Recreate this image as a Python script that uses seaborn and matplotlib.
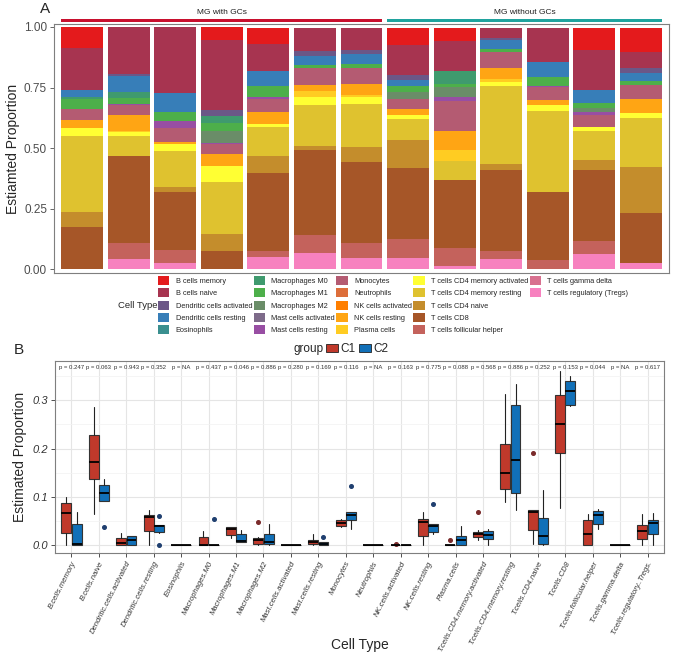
import numpy as np
import pandas as pd
import matplotlib
matplotlib.use("Agg")
import matplotlib.pyplot as plt
import matplotlib.transforms as mtransforms
from matplotlib.patches import Patch, Rectangle
import seaborn as sns

# ---------------- data: panel A (13 samples, proportions per cell type) ----------------
samples = list(range(13))
group_a_labels = ["MG with GCs", "MG without GCs"]
group_a_sizes = [7, 6]

cell_types = [
    "B cells memory", "B cells naive", "Dendritic cells activated", "Dendritic cells resting",
    "Eosinophils", "Macrophages M0", "Macrophages M1", "Macrophages M2",
    "Mast cells activated", "Mast cells resting", "Monocytes", "Neutrophils",
    "NK cells activated", "NK cells resting", "Plasma cells",
    "T cells CD4 memory activated", "T cells CD4 memory resting", "T cells CD4 naive",
    "T cells CD8", "T cells follicular helper", "T cells gamma delta",
    "T cells regulatory (Tregs)",
]
cell_colors = [
    "#E41A1C", "#A73450", "#6B5787", "#377EB8", "#3A8F8F", "#3F9A6E", "#4DAF4A",
    "#6A8D68", "#7E6B8A", "#984EA3", "#B45B72", "#DD6E3A", "#FF7F00", "#FFA514",
    "#FFCC22", "#FFFF33", "#DFC22F", "#C48D2C", "#A65628", "#C4625C", "#D8708F",
    "#F781BF",
]

b_memory = [0.086, 0, 0, 0.055, 0.064, 0, 0, 0.068, 0.052, 0, 0, 0.092, 0.100]
b_naive = [0.174, 0.195, 0.271, 0.286, 0.114, 0.096, 0.092, 0.127, 0.125, 0.040, 0.141, 0.162, 0.066]
dc_activated = [0, 0.008, 0, 0.027, 0, 0.018, 0.018, 0.021, 0, 0.008, 0, 0, 0.021]
dc_resting = [0.030, 0.065, 0.078, 0, 0.062, 0.040, 0.040, 0.023, 0, 0.038, 0.062, 0.056, 0.033]
eosinophils = [0] * 13
mac_m0 = [0.007, 0.024, 0, 0.029, 0, 0, 0, 0, 0.052, 0, 0, 0, 0]
mac_m1 = [0.040, 0.024, 0.041, 0.034, 0.044, 0.009, 0.015, 0.026, 0.012, 0.015, 0.036, 0.019, 0.015]
mac_m2 = [0, 0, 0, 0.047, 0, 0, 0, 0.029, 0.042, 0, 0, 0.018, 0]
mast_activated = [0] * 13
mast_resting = [0, 0.005, 0.029, 0.007, 0.009, 0, 0, 0, 0.018, 0, 0.005, 0.012, 0]
monocytes = [0.046, 0.041, 0.054, 0.038, 0.055, 0.070, 0.067, 0.038, 0.123, 0.063, 0.052, 0.048, 0.056]
neutrophils = [0] * 13
nk_activated = [0] * 13
nk_resting = [0.031, 0.066, 0.011, 0.050, 0.049, 0.027, 0.045, 0.027, 0.079, 0.045, 0.023, 0, 0.059]
plasma = [0, 0.005, 0, 0, 0, 0.024, 0.010, 0, 0.045, 0.014, 0, 0, 0]
cd4_mem_act = [0.034, 0.018, 0.026, 0.067, 0.012, 0.034, 0.029, 0.014, 0, 0.016, 0.023, 0.018, 0.019]
cd4_mem_rest = [0.313, 0.082, 0.150, 0.213, 0.118, 0.168, 0.175, 0.088, 0.077, 0.321, 0.334, 0.119, 0.205]
cd4_naive = [0.065, 0, 0.021, 0.072, 0.071, 0.016, 0.062, 0.115, 0, 0.025, 0, 0.042, 0.190]
cd8 = [0.173, 0.359, 0.241, 0.075, 0.323, 0.353, 0.337, 0.292, 0.281, 0.334, 0.281, 0.290, 0.204]
tfh = [0, 0.066, 0.053, 0, 0.021, 0.072, 0.059, 0.079, 0.077, 0.036, 0.038, 0.055, 0]
gamma_delta = [0] * 13
tregs = [0, 0.041, 0.025, 0, 0.053, 0.068, 0.048, 0.048, 0.012, 0.041, 0, 0.064, 0.027]

props = [b_memory, b_naive, dc_activated, dc_resting, eosinophils, mac_m0, mac_m1, mac_m2,
         mast_activated, mast_resting, monocytes, neutrophils, nk_activated, nk_resting,
         plasma, cd4_mem_act, cd4_mem_rest, cd4_naive, cd8, tfh, gamma_delta, tregs]

# ---------------- data: panel B (box statistics per cell type) ----------------
box_labels = [
    "B.cells.memory", "B.cells.naive", "Dendritic.cells.activated", "Dendritic.cells.resting",
    "Eosinophils", "Macrophages.M0", "Macrophages.M1", "Macrophages.M2",
    "Mast.cells.activated", "Mast.cells.resting", "Monocytes", "Neutrophils",
    "NK.cells.activated", "NK.cells.resting", "Plasma.cells",
    "T.cells.CD4.memory.activated", "T.cells.CD4.memory.resting", "T.cells.CD4.naive",
    "T.cells.CD8", "T.cells.follicular.helper", "T.cells.gamma.delta",
    "T.cells.regulatory..Tregs.",
]
p_values = ["0.247", "0.063", "0.943", "0.352", "NA", "0.437", "0.046", "0.886", "0.280",
            "0.169", "0.116", "NA", "0.163", "0.775", "0.088", "0.568", "0.886", "0.252",
            "0.153", "0.044", "NA", "0.617"]

c1_low = [0.0, 0.065, 0.0, 0.0, 0, 0, 0.014, 0.0, 0, 0.0, 0.037, 0, 0, 0.0, 0, 0.010, 0.090, 0.003, 0.077, 0.0, 0, 0.0]
c1_q1 = [0.026, 0.138, 0.0, 0.030, 0, 0, 0.021, 0.003, 0, 0.003, 0.040, 0, 0, 0.020, 0, 0.017, 0.116, 0.031, 0.190, 0.0, 0, 0.013]
c1_med = [0.066, 0.173, 0.004, 0.058, 0, 0.001, 0.034, 0.010, 0, 0.007, 0.047, 0, 0, 0.048, 0, 0.024, 0.149, 0.068, 0.250, 0.023, 0, 0.030]
c1_q3 = [0.087, 0.227, 0.014, 0.063, 0, 0.018, 0.037, 0.014, 0, 0.010, 0.052, 0, 0, 0.055, 0, 0.028, 0.210, 0.072, 0.311, 0.052, 0, 0.042]
c1_high = [0.100, 0.286, 0.026, 0.072, 0, 0.030, 0.038, 0.017, 0, 0.023, 0.055, 0, 0, 0.069, 0, 0.032, 0.313, 0.072, 0.360, 0.065, 0, 0.064]
c1_out = [[], [], [], [], [], [], [], [0.048], [], [], [], [], [0.002], [], [0.011], [0.068], [], [0.191], [], [], [], []]

c2_low = [0.0, 0.092, 0.0, 0.025, 0, 0, 0.006, 0.0, 0, 0.0, 0.034, 0, 0, 0.023, 0.0, 0.0, 0.073, 0.0, 0.287, 0.034, 0, 0.0]
c2_q1 = [0.0, 0.092, 0.001, 0.027, 0, 0, 0.007, 0.003, 0, 0.0, 0.052, 0, 0, 0.028, 0.001, 0.012, 0.108, 0.003, 0.290, 0.043, 0, 0.023]
c2_med = [0.002, 0.109, 0.011, 0.039, 0, 0, 0.009, 0.006, 0, 0.002, 0.063, 0, 0, 0.039, 0.010, 0.021, 0.177, 0.019, 0.318, 0.063, 0, 0.047]
c2_q3 = [0.044, 0.125, 0.019, 0.041, 0, 0.001, 0.023, 0.023, 0.001, 0.006, 0.068, 0, 0, 0.043, 0.019, 0.029, 0.289, 0.057, 0.339, 0.071, 0, 0.052]
c2_high = [0.068, 0.137, 0.020, 0.041, 0, 0.001, 0.032, 0.044, 0.001, 0.006, 0.068, 0, 0, 0.043, 0.040, 0.033, 0.334, 0.114, 0.350, 0.076, 0, 0.066]
c2_out = [[], [0.038], [], [0.061, 0.0], [], [0.054], [], [], [], [0.018], [0.123], [], [], [0.086], [], [], [], [], [], [], [], []]

group_b_labels = ["C1", "C2"]
group_b_colors = ["#C0392B", "#1170B8"]
flier_colors = ["#7A2A2A", "#1F3F6F"]

# ---------------- style ----------------
sns.set_theme(style="white")
plt.rcParams["font.family"] = ["Liberation Sans", "DejaVu Sans"]

fig = plt.figure(figsize=(6.75, 6.56), dpi=100)
W, H = 675, 656


def axes_rect(x0, y0, x1, y1):
    return [x0 / W, 1 - y1 / H, (x1 - x0) / W, (y1 - y0) / H]


# ---------------- panel A ----------------
ax_a = fig.add_axes(axes_rect(54, 24, 669, 273))
rows = []
for ct, vals in zip(cell_types, props):
    for s, v in zip(samples, vals):
        rows.append({"sample": s, "cell": ct, "prop": v})
df_a = pd.DataFrame(rows)

sns.histplot(data=df_a, x="sample", weights="prop", hue="cell", hue_order=cell_types,
             palette=dict(zip(cell_types, cell_colors)), multiple="stack", discrete=True,
             shrink=0.9, linewidth=0, alpha=1, legend=False, ax=ax_a)
ax_a.set_xlim(-0.6, len(samples) - 0.4)
ax_a.set_ylim(-0.015, 1.012)
ax_a.set_xticks([])
ax_a.set_xlabel("")
ax_a.set_yticks([0, 0.25, 0.5, 0.75, 1.0])
ax_a.set_yticklabels(["0.00", "0.25", "0.50", "0.75", "1.00"], fontsize=8.5, color="#4D4D4D")
ax_a.tick_params(axis="y", length=3, width=0.6, color="#4D4D4D", left=True, pad=2)
ax_a.set_ylabel("Estiamted Proportion", fontsize=10, labelpad=3)
for sp in ax_a.spines.values():
    sp.set_color("#7F7F7F")
    sp.set_linewidth(0.8)

# group strips above the bars
trans = mtransforms.blended_transform_factory(ax_a.transData, ax_a.transAxes)
strip_colors = ["#C8102E", "#20A39E"]
start = 0
for lab, n, col in zip(group_a_labels, group_a_sizes, strip_colors):
    x0, x1 = start - 0.45, start + n - 0.55
    ax_a.add_patch(Rectangle((x0, 1.007), x1 - x0, 0.015, transform=trans,
                             color=col, clip_on=False, linewidth=0))
    ax_a.text((x0 + x1) / 2, 1.032, lab, transform=trans, ha="center", va="bottom",
              fontsize=6, color="#222222")
    start += n

fig.text(40 / W, 1 - 9 / H, "A", fontsize=11, ha="left", va="center")

# legend for cell types (5 x 5 grid, column-major)
handles = [Patch(facecolor=c, edgecolor="none", label=l) for l, c in zip(cell_types, cell_colors)]
handles += [Patch(facecolor="none", edgecolor="none", label="")] * 3
fig.legend(handles=handles, loc="upper left", bbox_to_anchor=(158 / W, 1 - 276 / H),
           ncol=5, frameon=False, fontsize=5.3, handlelength=1.55, handleheight=1.5,
           handletextpad=0.85, labelspacing=0.45, columnspacing=0.2, borderpad=0,
           borderaxespad=0)
fig.text(118 / W, 1 - 305 / H, "Cell Type", fontsize=6.8, ha="left", va="center")

# ---------------- panel B ----------------
ax_b = fig.add_axes(axes_rect(55, 361, 664, 553))
n = len(box_labels)
centers = np.arange(n)
offset = 0.1875

lows = [c1_low, c2_low]
q1s = [c1_q1, c2_q1]
meds = [c1_med, c2_med]
q3s = [c1_q3, c2_q3]
highs = [c1_high, c2_high]
outs = [c1_out, c2_out]

for g in range(2):
    stats = []
    for i in range(n):
        stats.append({"whislo": lows[g][i], "q1": q1s[g][i], "med": meds[g][i],
                      "q3": q3s[g][i], "whishi": highs[g][i], "fliers": outs[g][i]})
    pos = centers + (-offset if g == 0 else offset)
    ax_b.bxp(stats, positions=pos, widths=0.36, patch_artist=True, showcaps=False,
             boxprops=dict(facecolor=group_b_colors[g], edgecolor="#333333", linewidth=0.8),
             medianprops=dict(color="black", linewidth=1.3),
             whiskerprops=dict(color="#222222", linewidth=0.8),
             flierprops=dict(marker="o", markersize=2.6, markerfacecolor=flier_colors[g],
                             markeredgecolor=flier_colors[g]),
             manage_ticks=False)

ax_b.set_xlim(-0.6, n - 0.4)
ax_b.set_ylim(-0.016, 0.381)
ax_b.set_yticks([0.0, 0.1, 0.2, 0.3])
ax_b.set_yticklabels(["0.0", "0.1", "0.2", "0.3"], fontsize=8, style="italic", color="#333333")
ax_b.set_yticks([0.05, 0.15, 0.25, 0.35], minor=True)
ax_b.set_xticks(centers)
ax_b.set_xticklabels(box_labels, rotation=63, ha="right", rotation_mode="anchor",
                     fontsize=5.5, style="italic", color="#333333")
ax_b.tick_params(axis="both", which="major", length=3, width=0.6, color="#333333",
                 bottom=True, left=True, pad=2)
ax_b.tick_params(axis="both", which="minor", length=0)
ax_b.grid(True, which="major", color="#E5E5E5", linewidth=0.8)
ax_b.grid(True, which="minor", axis="y", color="#F2F2F2", linewidth=0.5)
ax_b.set_axisbelow(True)
for sp in ax_b.spines.values():
    sp.set_color("#7F7F7F")
    sp.set_linewidth(0.8)
ax_b.set_ylabel("Estimated Proportion", fontsize=10, labelpad=4)
ax_b.set_xlabel("Cell Type", fontsize=10)
ax_b.xaxis.set_label_coords(0.5, -(645 - 553) / (553 - 361))
ax_b.xaxis.label.set_va("center")

for i, p in enumerate(p_values):
    ax_b.text(centers[i], 0.367, f"p = {p}", ha="center", va="center", fontsize=4.3,
              color="#333333")

fig.text(14 / W, 1 - 350 / H, "B", fontsize=11, ha="left", va="center")

# group legend
g_handles = [Patch(facecolor=c, edgecolor="#222222", linewidth=0.6, label=l)
             for l, c in zip(group_b_labels, group_b_colors)]
fig.legend(handles=g_handles, loc="center left", bbox_to_anchor=(326 / W, 1 - 349 / H),
           ncol=2, frameon=False, fontsize=8.5, handlelength=1.0, handleheight=0.7,
           handletextpad=0.2, columnspacing=0.3, borderpad=0, borderaxespad=0)
fig.text(324 / W, 1 - 349 / H, "group", fontsize=8.5, ha="right", va="center")

fig.savefig("out.png", dpi=100)
